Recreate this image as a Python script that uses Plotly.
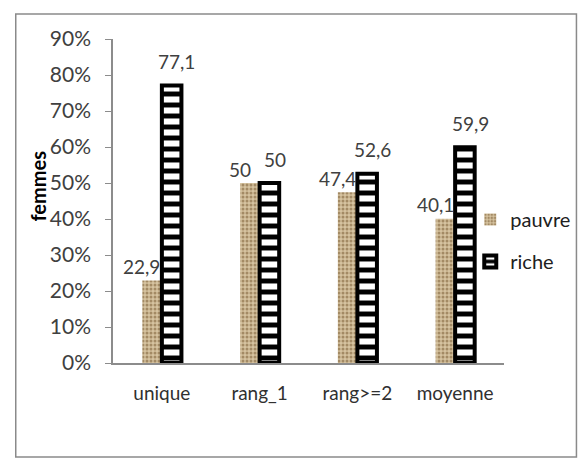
import plotly.graph_objects as go

categories = ["unique", "rang_1", "rang>=2", "moyenne"]
pauvre = [22.9, 50, 47.4, 40.1]
riche = [77.1, 50, 52.6, 59.9]
pauvre_labels = ["22,9", "50", "47,4", "40,1"]
riche_labels = ["77,1", "50", "52,6", "59,9"]
y_ticks = [0, 0.1, 0.2, 0.3, 0.4, 0.5, 0.6, 0.7, 0.8, 0.9]

FONT = "Lato"
OFF = 8  # page body margin
W, H = 588 - OFF, 461 - OFF
# plot area in reference pixel coordinates
PL, PR, PT, PB = 113, 507, 39, 363
pw, ph = PR - PL, PB - PT

def px_x(x):
    return (x - PL) / pw

def px_y(y):
    return (PB - y) / ph

fig = go.Figure()
fig.add_trace(go.Bar(
    x=categories, y=[v / 100 for v in pauvre], name="pauvre",
    legendgroup="p",
    marker=dict(color="#cdb690",
                line=dict(width=0),
                pattern=dict(shape=".", fgcolor="#a38a64", bgcolor="#d6c3a0",
                             size=4, solidity=0.45, fillmode="replace")),
))
fig.add_trace(go.Bar(
    x=categories, y=[v / 100 for v in riche], name="riche",
    legendgroup="r",
    marker=dict(color="#000000",
                line=dict(width=4, color="#000000"),
                pattern=dict(shape="-", fgcolor="#ffffff", bgcolor="#000000",
                             size=11, solidity=0.55, fillmode="replace")),
))

annotations = []
for c, v, t in zip(categories, pauvre, pauvre_labels):
    annotations.append(dict(x=c, y=v / 100, text=t, showarrow=False,
                            xshift=-20, yshift=14, yanchor="middle",
                            font=dict(family=FONT, size=19, color="#404040")))
for c, v, t in zip(categories, riche, riche_labels):
    annotations.append(dict(x=c, y=v / 100, text=t, showarrow=False,
                            xshift=15, yshift=24, yanchor="middle",
                            font=dict(family=FONT, size=19, color="#404040")))
annotations.append(dict(xref="paper", yref="paper", x=px_x(37), y=px_y(186),
                        text="<b>femmes</b>", textangle=-90, showarrow=False,
                        xanchor="center", yanchor="middle",
                        font=dict(family=FONT, size=20, color="#000000")))

fig.update_layout(
    width=W, height=H,
    margin=dict(l=PL - OFF, r=W - (PR - OFF), t=PT - OFF, b=H - (PB - OFF)),
    paper_bgcolor="white", plot_bgcolor="white",
    barmode="group", bargap=0.6, bargroupgap=0,
    font=dict(family=FONT, color="#404040"),
    annotations=annotations,
    showlegend=True,
    legend=dict(x=px_x(473), y=px_y(200), xanchor="left", yanchor="top",
                font=dict(family=FONT, size=20, color="#202020"),
                itemwidth=30, traceorder="grouped", tracegroupgap=13,
                bgcolor="rgba(0,0,0,0)"),
    shapes=[dict(type="rect", xref="paper", yref="paper",
                 x0=px_x(15), x1=px_x(580), y0=px_y(457), y1=px_y(14),
                 line=dict(color="#8a8a8a", width=1.5), fillcolor="rgba(0,0,0,0)",
                 layer="below")],
)
fig.update_xaxes(showline=True, linecolor="#8c8c8c", linewidth=1.5,
                 ticks="", showgrid=False,
                 tickfont=dict(family=FONT, size=19, color="#303030"),
                 ticklabelstandoff=12)
fig.update_yaxes(range=[0, 0.9], tickvals=y_ticks, tickformat=".0%",
                 showline=True, linecolor="#8c8c8c", linewidth=1.5,
                 ticks="outside", ticklen=6, tickcolor="#8c8c8c",
                 showgrid=False, zeroline=False,
                 tickfont=dict(family=FONT, size=21, color="#404040"),
                 ticklabelstandoff=10)

fig.write_html("out.html")
